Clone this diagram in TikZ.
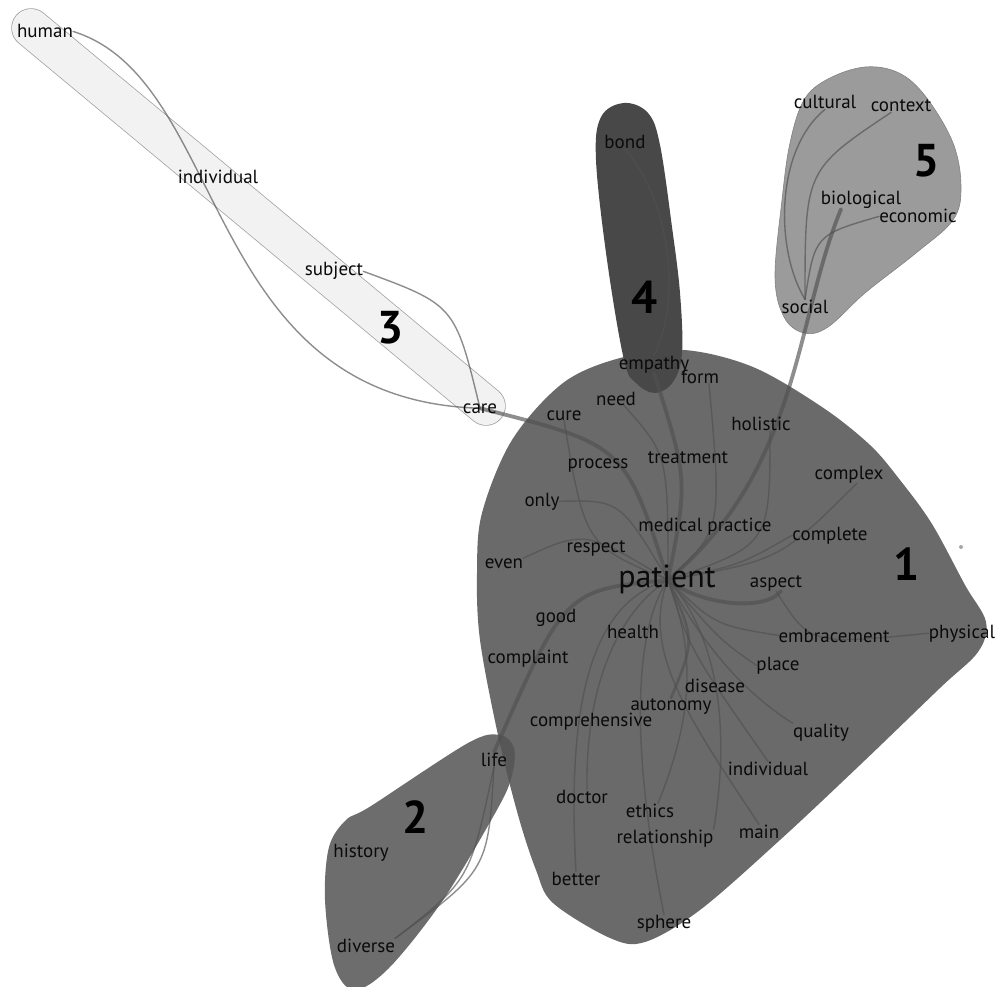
\documentclass[tikz,border=0pt]{standalone}
\usepackage{fontspec}
\setmainfont{PT Sans}
\usetikzlibrary{calc}
\pgfdeclarelayer{clusters}
\pgfdeclarelayer{links}
\pgfsetlayers{clusters,links,main}
\definecolor{cone}{RGB}{106,106,106}
\definecolor{ctwo}{RGB}{84,84,84}
\definecolor{cfour}{RGB}{72,72,72}
\definecolor{cfive}{RGB}{155,155,155}
\definecolor{cfiveline}{RGB}{130,130,130}
\definecolor{cthree}{RGB}{242,242,242}
\definecolor{cthreeline}{RGB}{160,160,160}
\definecolor{txt}{RGB}{10,10,10}
\definecolor{linkc}{RGB}{80,80,80}
\begin{document}
\begin{tikzpicture}[x=1pt,y=-1pt,
  word/.style={font=\fontsize{19}{19}\selectfont, text=txt, inner sep=0pt, anchor=base},
  bigword/.style={font=\fontsize{32}{32}\selectfont, text=txt, inner sep=0pt, anchor=base},
  num/.style={font=\fontsize{46}{46}\selectfont\bfseries, text=black, inner sep=0pt, anchor=base},
  link/.style={draw=linkc, draw opacity=0.65, line width=1.4pt, line cap=round},
  linkmid/.style={link, line width=2.6pt},
  linkthick/.style={link, line width=3.8pt}]
\useasboundingbox (0,0) rectangle (996,987);

% ---------------- words ----------------
\node[word] (human) at (45,38) {human};
\node[word] (individualA) at (218,184) {individual};
\node[word] (subject) at (334,276) {subject};
\node[num] (nthree) at (391,343) {3};
\node[word] (care) at (480,413) {care};

\node[word] (bond) at (625,149) {bond};
\node[num] (nfour) at (645,313) {4};
\node[word] (empathy) at (654,369) {empathy};

\node[word] (cultural) at (825,109) {cultural};
\node[word] (context) at (901,112) {context};
\node[num] (nfive) at (927,177) {5};
\node[word] (biological) at (861,205) {biological};
\node[word] (economic) at (918,223) {economic};
\node[word] (social) at (805,313) {social};

\node[word] (form) at (700,383) {form};
\node[word] (need) at (616,405) {need};
\node[word] (cure) at (564,420) {cure};
\node[word] (holistic) at (761,430) {holistic};
\node[word] (process) at (598,468) {process};
\node[word] (treatment) at (688,463) {treatment};
\node[word] (complex) at (849,479) {complex};
\node[word] (only) at (542,506) {only};
\node[word] (medical) at (705,531) {medical practice};
\node[word] (complete) at (830,540) {complete};
\node[word] (respect) at (596,552) {respect};
\node[word] (even) at (504,568) {even};
\node[bigword] (patient) at (667,587) {patient};
\node[word] (aspect) at (776,587) {aspect};
\node[num] (none) at (907,580) {1};
\node[word] (good) at (556,622) {good};
\node[word] (health) at (633,638) {health};
\node[word] (embracement) at (834,642) {embracement};
\node[word] (physical) at (962,638) {physical};
\node[word] (complaint) at (528,663) {complaint};
\node[word] (place) at (778,670) {place};
\node[word] (disease) at (715,692) {disease};
\node[word] (autonomy) at (671,710) {autonomy};
\node[word] (comprehensive) at (591,726) {comprehensive};
\node[word] (quality) at (821,737) {quality};
\node[word] (individualB) at (768,775) {individual};
\node[word] (doctor) at (582,803) {doctor};
\node[word] (ethics) at (650,817) {ethics};
\node[word] (relationship) at (665,843) {relationship};
\node[word] (main) at (759,838) {main};
\node[word] (better) at (576,885) {better};
\node[word] (sphere) at (664,928) {sphere};

\node[word] (life) at (494,766) {life};
\node[num] (ntwo) at (416,833) {2};
\node[word] (history) at (361,857) {history};
\node[word] (diverse) at (366,952) {diverse};

\coordinate (hub) at (668,580);
\coordinate (c3a) at (31,28);
\coordinate (c3b) at (486,406);

% ---------------- clusters ----------------
\begin{pgfonlayer}{clusters}
% cluster 1
\fill[cone] plot[smooth cycle, tension=0.55] coordinates {
 (684,350) (753,367) (822,407) (870,445) (900,480) (932,524) (965,585) (986,622)
 (978,652) (940,688) (860,765) (780,840) (700,910) (645,942) (610,938) (553,903)
 (536,870) (518,815) (498,735) (480,640) (477,573) (482,513) (512,440) (563,383) (620,358)};
% cluster 2
\fill[ctwo, fill opacity=0.85] plot[smooth cycle, tension=0.55] coordinates {
 (500,735) (514,748) (512,775) (498,808) (443,900) (389,968) (354,990) (334,965)
 (325,900) (329,847) (346,820) (371,806) (468,743)};
% cluster 3
\draw[cthreeline, line width=39.5pt, line cap=round] (c3a) -- (c3b);
\draw[cthree, line width=38pt, line cap=round] (c3a) -- (c3b);
% cluster 4
\fill[cfour] plot[smooth cycle, tension=0.6] coordinates {
 (624,103) (648,113) (660,145) (672,227) (680,293) (682,353) (673,382) (655,393)
 (636,383) (624,360) (607,260) (596,160) (601,117)};
% cluster 5
\filldraw[fill=cfive, draw=cfiveline, line width=0.6pt] plot[smooth cycle, tension=0.6] coordinates {
 (865,67) (828,79) (804,100) (790,143) (782,200) (775,277) (784,317) (804,333)
 (828,327) (865,293) (916,253) (953,220) (961,187) (953,143) (926,97) (899,73)};
% dot
\fill[black!35] (961,547) circle (2);
\end{pgfonlayer}

% ---------------- links ----------------
\begin{pgfonlayer}{links}
% cluster 3
\draw[link] (human.east) .. controls (230,80) and (200,400) .. (care.center);
\draw[link] (subject.east) .. controls (455,305) .. (care.center);
\draw[linkthick] (hub) .. controls (625,445) .. (care.center);
% cluster 4
\draw[link] (bond.south) .. controls (670,200) and (682,300) .. (empathy.north);
\draw[linkthick] (empathy.south) .. controls (688,480) .. (hub);
% cluster 5
\draw[linkthick] ([xshift=-20pt]biological.south) .. controls (795,320) and (800,470) .. (hub);
\draw[link] (cultural.south) .. controls (775,150) and (775,250) .. (social.north);
\draw[link] ([xshift=-10pt]context.south) .. controls (805,170) .. (social.north);
\draw[link] (economic.west) .. controls (815,235) .. (social.north);
% cluster 2
\draw[linkthick] (hub) .. controls (565,590) .. (life.north);
\draw[link] (life.south) .. controls (488,870) .. (diverse.north east);
\draw[link] (life.south) .. controls (470,880) .. (diverse.north east);
% cluster 1
\draw[link] (hub) .. controls (668,455) .. ([xshift=8pt]need.south);
\draw[link] (hub) .. controls (722,530) .. ([xshift=9pt]form.south);
\draw[link] (hub) .. controls (585,545) .. (cure.south);
\draw[link] (hub) .. controls (770,545) .. ([xshift=9pt]holistic.south);
\draw[link] (hub) .. controls (620,500) .. (only.east);
\draw[link] (hub) .. controls (585,530) .. (even.north east);
\draw[link] (hub) .. controls (780,560) .. ([xshift=8pt]complex.south);
\draw[link] (hub) .. controls (740,565) .. (complete.west);
\draw[linkthick] (hub) .. controls (700,605) and (765,612) .. ([xshift=5pt]aspect.south);
\draw[link] (aspect.south) .. controls (810,645) .. (physical.west);
\draw[link] (hub) .. controls (715,625) .. (embracement.west);
\draw[link] (hub) .. controls (720,640) .. (place.west);
\draw[link] (hub) .. controls (700,640) and (740,690) .. (quality.north west);
\draw[link] (hub) .. controls (690,650) .. (individualB.north);
\draw[link] (hub) .. controls (640,650) and (690,720) .. (main.north);
\draw[link] (hub) .. controls (705,620) and (735,700) .. (relationship.north east);
\draw[link] (hub) .. controls (690,640) and (700,700) .. ([xshift=8pt]ethics.north);
\draw[linkmid] (hub) .. controls (695,640) .. (autonomy.north);
\draw[link] (hub) .. controls (640,620) and (625,720) .. (sphere.north);
\draw[link] (hub) .. controls (635,600) and (585,660) .. ([xshift=5pt]doctor.north);
\draw[link] (hub) .. controls (600,600) and (565,680) .. (better.north);
\end{pgfonlayer}
\end{tikzpicture}
\end{document}
